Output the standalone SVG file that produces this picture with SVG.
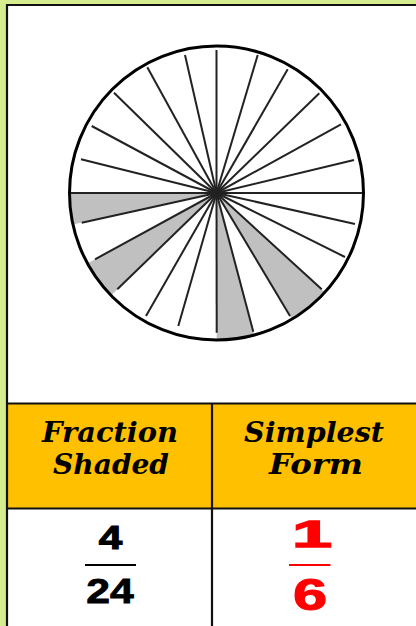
<svg xmlns="http://www.w3.org/2000/svg" width="416" height="626" viewBox="0 0 416 626">
<style>
.spoke{stroke:#222;stroke-width:2;fill:none}
.shade{fill:#c0c0c0;stroke:none}
.grid{stroke:#111;stroke-width:2.2;fill:none}
.hdr{font-family:"DejaVu Serif","Liberation Serif",serif;font-weight:bold;font-style:italic;font-size:27px;fill:#000;text-anchor:middle}
.num{font-family:"Liberation Sans",Arial,sans-serif;font-weight:bold;text-anchor:middle}
</style>
<rect x="0" y="0" width="416" height="626" fill="#d6ed8f"/>
<rect x="7" y="5" width="420" height="630" fill="#fff"/>
<rect x="7" y="404" width="420" height="105" fill="#ffc000"/>
<g id="circle">
<path class="shade" d="M216.5,193 L69.5,193 A147,147 0 0 0 72.9,224.6 Z"/>
<path class="shade" d="M216.5,193 L87.45,263.4 A147,147 0 0 0 111,295.4 Z"/>
<path class="shade" d="M216.5,193 L216.7,340 A147,147 0 0 0 254.2,335.1 Z"/>
<path class="shade" d="M216.5,193 L291.9,319.2 A147,147 0 0 0 324.9,292.3 Z"/>
<g class="spoke">
<line x1="70" y1="193" x2="363" y2="193"/>
<line x1="216.5" y1="193" x2="216.5" y2="50"/>
<line x1="216.5" y1="193" x2="257.7" y2="55"/>
<line x1="216.5" y1="193" x2="287.7" y2="69.3"/>
<line x1="216.5" y1="193" x2="319.3" y2="93.3"/>
<line x1="216.5" y1="193" x2="341" y2="124.3"/>
<line x1="216.5" y1="193" x2="354" y2="160"/>
<line x1="216.5" y1="193" x2="355" y2="224"/>
<line x1="216.5" y1="193" x2="345" y2="257"/>
<line x1="216.5" y1="193" x2="321.7" y2="289.3"/>
<line x1="216.5" y1="193" x2="290" y2="316"/>
<line x1="216.5" y1="193" x2="253.3" y2="331.7"/>
<line x1="216.5" y1="193" x2="216.7" y2="332.7"/>
<line x1="216.5" y1="193" x2="178.3" y2="326"/>
<line x1="216.5" y1="193" x2="146" y2="316"/>
<line x1="216.5" y1="193" x2="117.3" y2="289.3"/>
<line x1="216.5" y1="193" x2="95" y2="259.3"/>
<line x1="216.5" y1="193" x2="81.7" y2="222.7"/>
<line x1="216.5" y1="193" x2="81" y2="159.3"/>
<line x1="216.5" y1="193" x2="91.7" y2="126"/>
<line x1="216.5" y1="193" x2="114" y2="92.7"/>
<line x1="216.5" y1="193" x2="147.3" y2="67.3"/>
<line x1="216.5" y1="193" x2="185" y2="55"/>
</g>
<circle cx="216.5" cy="193" r="147" fill="none" stroke="#000" stroke-width="3"/>
</g>
<g id="table" class="grid">
<line x1="7" y1="5" x2="416" y2="5"/>
<line x1="7" y1="4" x2="7" y2="626"/>
<line x1="7" y1="403.5" x2="416" y2="403.5"/>
<line x1="7" y1="508.5" x2="416" y2="508.5"/>
<line x1="212" y1="403.5" x2="212" y2="626"/>
</g>
<g id="header-fraction">
<text class="hdr" x="110" y="441.7" textLength="136" lengthAdjust="spacingAndGlyphs">Fraction</text>
<text class="hdr" x="111" y="473.5" textLength="116" lengthAdjust="spacingAndGlyphs">Shaded</text>
</g>
<g id="header-simplest">
<text class="hdr" x="314" y="441.7" textLength="140" lengthAdjust="spacingAndGlyphs">Simplest</text>
<text class="hdr" x="316" y="473.5" textLength="94" lengthAdjust="spacingAndGlyphs">Form</text>
</g>
<g id="fraction-4-24">
<text class="num" font-size="32.5" fill="#000" stroke="#000" stroke-width="1" transform="translate(110.5,549.3) scale(1.3,1)">4</text>
<line x1="85" y1="565" x2="136" y2="565" stroke="#000" stroke-width="2"/>
<text class="num" font-size="35" fill="#000" stroke="#000" stroke-width="0.8" transform="translate(110,603.3) scale(1.22,1)">24</text>
</g>
<g id="fraction-1-6">
<text class="num" font-size="37.5" fill="#f00" stroke="#f00" stroke-width="1.5" transform="translate(312,547.3) scale(1.9,1)">1</text>
<line x1="289" y1="565" x2="330.5" y2="565" stroke="#f00" stroke-width="2"/>
<text class="num" font-size="44" fill="#f00" stroke="#f00" stroke-width="1" transform="translate(310,609.5) scale(1.4,1)">6</text>
</g>
</svg>
